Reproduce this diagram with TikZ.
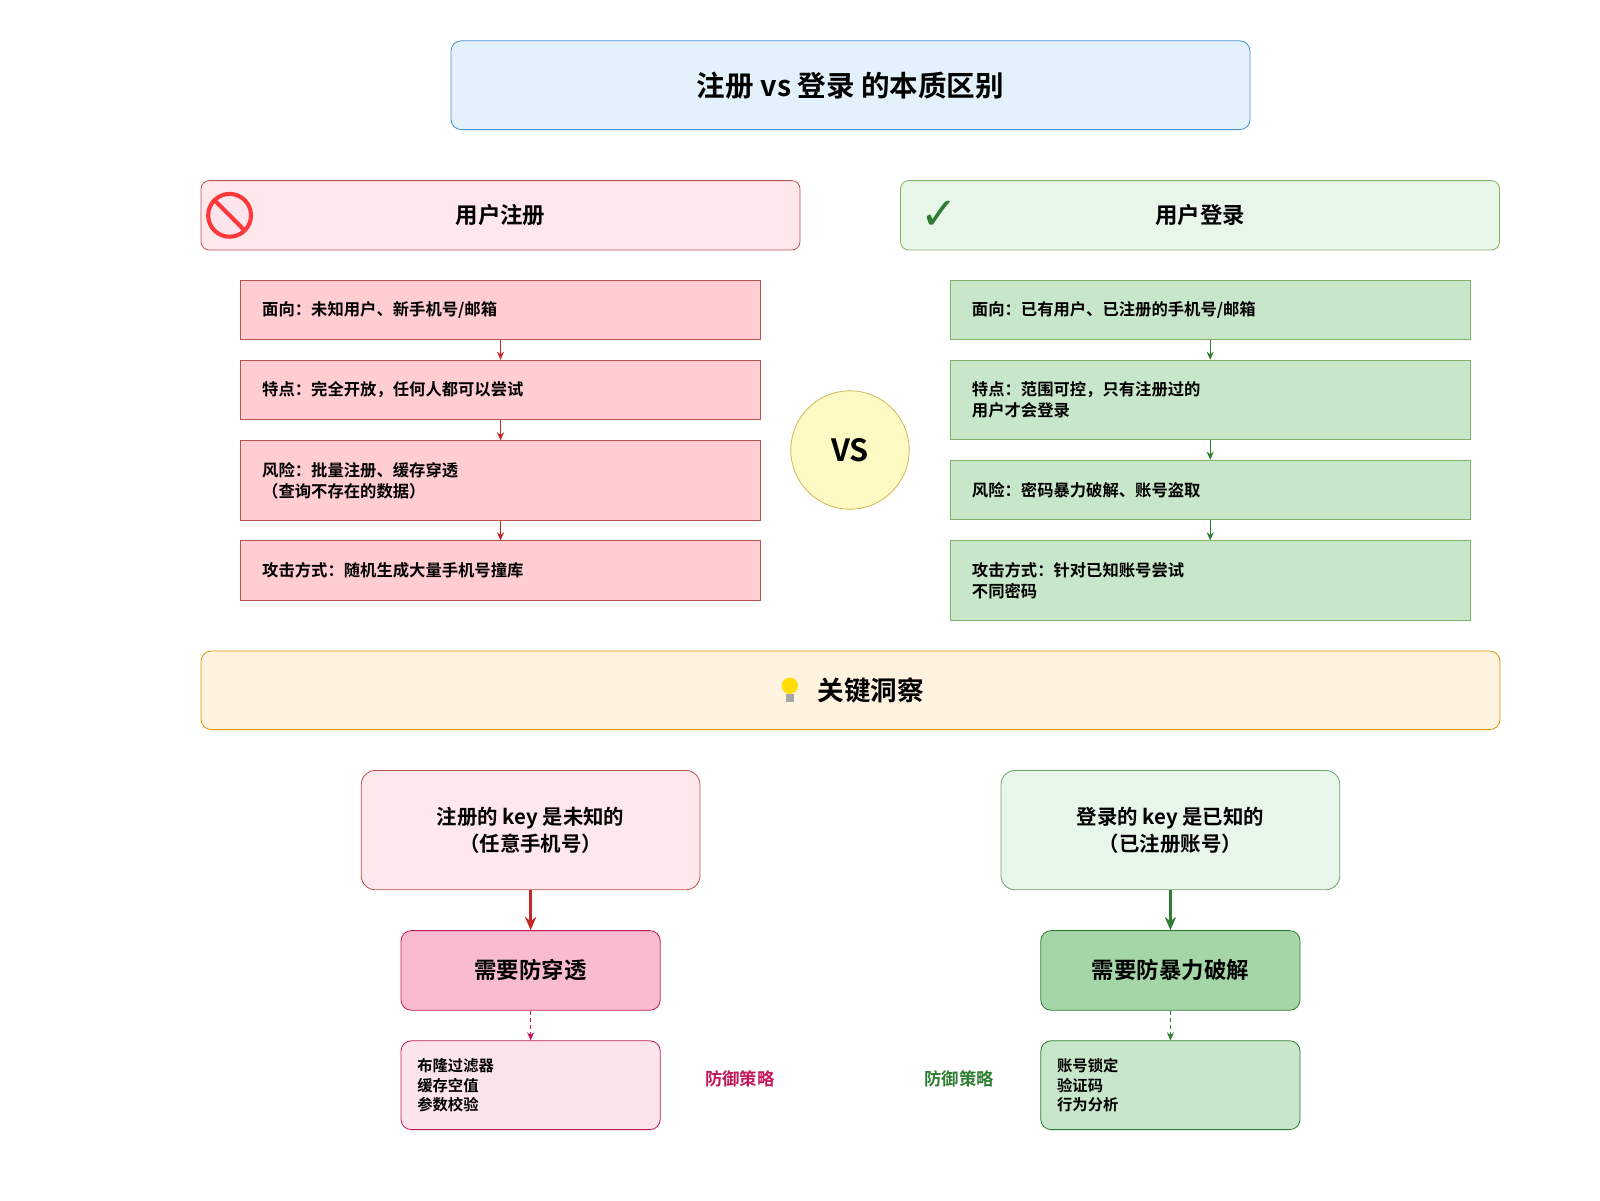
\documentclass[tikz,border=0pt]{standalone}
\usepackage{fontspec}
\setmainfont{Noto Sans CJK SC}[BoldFont={Noto Sans CJK SC Bold}]
\newfontfamily\symfont{DejaVu Sans}
\usetikzlibrary{positioning, arrows.meta}
\definecolor{titlefill}{HTML}{E3F1FB}
\definecolor{titledraw}{HTML}{4A90C8}
\definecolor{regfill}{HTML}{FFE8EC}
\definecolor{regdraw}{HTML}{B85450}
\definecolor{regbox}{HTML}{FFCDD2}
\definecolor{logfill}{HTML}{E8F5E9}
\definecolor{logdraw}{HTML}{82B366}
\definecolor{logbox}{HTML}{C8E6C9}
\definecolor{vsfill}{HTML}{FFF9C4}
\definecolor{vsdraw}{HTML}{D6B656}
\definecolor{insfill}{HTML}{FFF2DF}
\definecolor{insdraw}{HTML}{D79B00}
\definecolor{pinkdraw}{HTML}{C2185B}
\definecolor{pinkfill}{HTML}{F8BBD0}
\definecolor{pinklight}{HTML}{FCE4EC}
\definecolor{darkgreen}{HTML}{2E7D32}
\definecolor{midgreen}{HTML}{A5D6A7}
\definecolor{arrred}{HTML}{C62828}
\begin{document}
\begin{tikzpicture}[x=1pt, y=-1pt,
    box/.style={rectangle, draw, line width=0.8pt, inner sep=0pt},
    stepbox/.style={box, minimum width=509pt, text width=467pt, align=left, font=\fontsize{16}{21}\selectfont\bfseries},
    regstep/.style={stepbox, fill=regbox, draw=regdraw},
    logstep/.style={stepbox, fill=logbox, draw=logdraw},
    header/.style={box, rounded corners=8pt, minimum width=587pt, minimum height=68pt, font=\fontsize{22}{26}\selectfont\bfseries},
    keybox/.style={box, rounded corners=14pt, minimum width=332pt, minimum height=117pt, align=center, font=\fontsize{20}{26}\selectfont\bfseries},
    needbox/.style={box, rounded corners=10pt, minimum width=254pt, minimum height=78pt, font=\fontsize{22}{26}\selectfont\bfseries},
    stratbox/.style={box, rounded corners=10pt, minimum width=254pt, minimum height=87pt, text width=222pt, align=left, font=\fontsize{15}{19}\selectfont\bfseries},
    small/.style={-{Stealth[length=8pt,width=7pt]}, line width=1pt},
    big/.style={-{Stealth[length=13pt,width=11pt]}, line width=3pt},
    dasharrow/.style={small, dash pattern=on 4pt off 3pt}
]
\useasboundingbox (0,0) rectangle (1568,1176);

% Title
\node[box, rounded corners=10pt, fill=titlefill, draw=titledraw, minimum width=783pt, minimum height=87pt,
      font=\fontsize{28}{32}\selectfont\bfseries] (title) at (833.5,83.5) {注册 vs 登录 的本质区别};

% Headers
\node[header, fill=regfill, draw=regdraw] (reghead) at (490.5,211) {用户注册};
\node[header, fill=logfill, draw=logdraw] (loghead) at (1176,211) {用户登录};
\draw[line width=4pt, draw=red!70!pink, fill=pinklight] (225,211) circle (21pt);
\draw[line width=4pt, draw=red!70!pink] (210,196) -- (240,226);
\node[text=darkgreen, font=\symfont\fontsize{44}{44}\selectfont] (tick) at (921,211) {✓};

% Register column
\node[regstep, minimum height=58pt] (r1) at (490.5,304) {面向：未知用户、新手机号/邮箱};
\node[regstep, minimum height=58pt] (r2) at (490.5,382) {特点：完全开放，任何人都可以尝试};
\node[regstep, minimum height=78pt] (r3) at (490.5,471) {风险：批量注册、缓存穿透\\（查询不存在的数据）};
\node[regstep, minimum height=58pt] (r4) at (490.5,559) {攻击方式：随机生成大量手机号撞库};
\foreach \a/\b in {r1/r2, r2/r3, r3/r4}
  \draw[small, arrred] (\a) -- (\b);

% Login column
\node[logstep, minimum height=58pt] (l1) at (1186,304) {面向：已有用户、已注册的手机号/邮箱};
\node[logstep, minimum height=78pt] (l2) at (1186,392) {特点：范围可控，只有注册过的\\用户才会登录};
\node[logstep, minimum height=58pt] (l3) at (1186,480) {风险：密码暴力破解、账号盗取};
\node[logstep, minimum height=78pt] (l4) at (1186,569) {攻击方式：针对已知账号尝试\\不同密码};
\foreach \a/\b in {l1/l2, l2/l3, l3/l4}
  \draw[small, darkgreen] (\a) -- (\b);

% VS
\node[circle, draw=vsdraw, fill=vsfill, line width=0.8pt, minimum size=116pt,
      font=\fontsize{30}{34}\selectfont\bfseries] (vs) at (833,441) {VS};

% Insight
\node[box, rounded corners=10pt, fill=insfill, draw=insdraw, minimum width=1273pt, minimum height=77pt] (insight) at (833.5,676.5) {};
\node[font=\fontsize{26}{30}\selectfont\bfseries, anchor=west] (instext) at (798,676.5) {关键洞察};
\fill[yellow!80!orange] (774,672) circle (8pt);
\fill[gray!70] (770,680) rectangle (778,688);

% Bottom left
\node[keybox, fill=regfill, draw=regdraw] (regkey) at (520,813.5) {注册的 key 是未知的\\（任意手机号）};
\node[needbox, fill=pinkfill, draw=pinkdraw] (regneed) at (520,951) {需要防穿透};
\node[stratbox, fill=pinklight, draw=pinkdraw] (regstrat) at (520,1063.5) {布隆过滤器\\缓存空值\\参数校验};
\draw[big, arrred] (regkey) -- (regneed);
\draw[dasharrow, pinkdraw] (regneed) -- (regstrat);
\node[text=pinkdraw, font=\fontsize{17}{20}\selectfont\bfseries] (regdef) at (725,1057) {防御策略};

% Bottom right
\node[keybox, fill=logfill, draw=darkgreen!70] (logkey) at (1147,813.5) {登录的 key 是已知的\\（已注册账号）};
\node[needbox, fill=midgreen, draw=darkgreen] (logneed) at (1147,951) {需要防暴力破解};
\node[stratbox, fill=logbox, draw=darkgreen] (logstrat) at (1147,1063.5) {账号锁定\\验证码\\行为分析};
\draw[big, darkgreen] (logkey) -- (logneed);
\draw[dasharrow, darkgreen] (logneed) -- (logstrat);
\node[text=darkgreen, font=\fontsize{17}{20}\selectfont\bfseries] (logdef) at (940,1057) {防御策略};
\end{tikzpicture}
\end{document}
